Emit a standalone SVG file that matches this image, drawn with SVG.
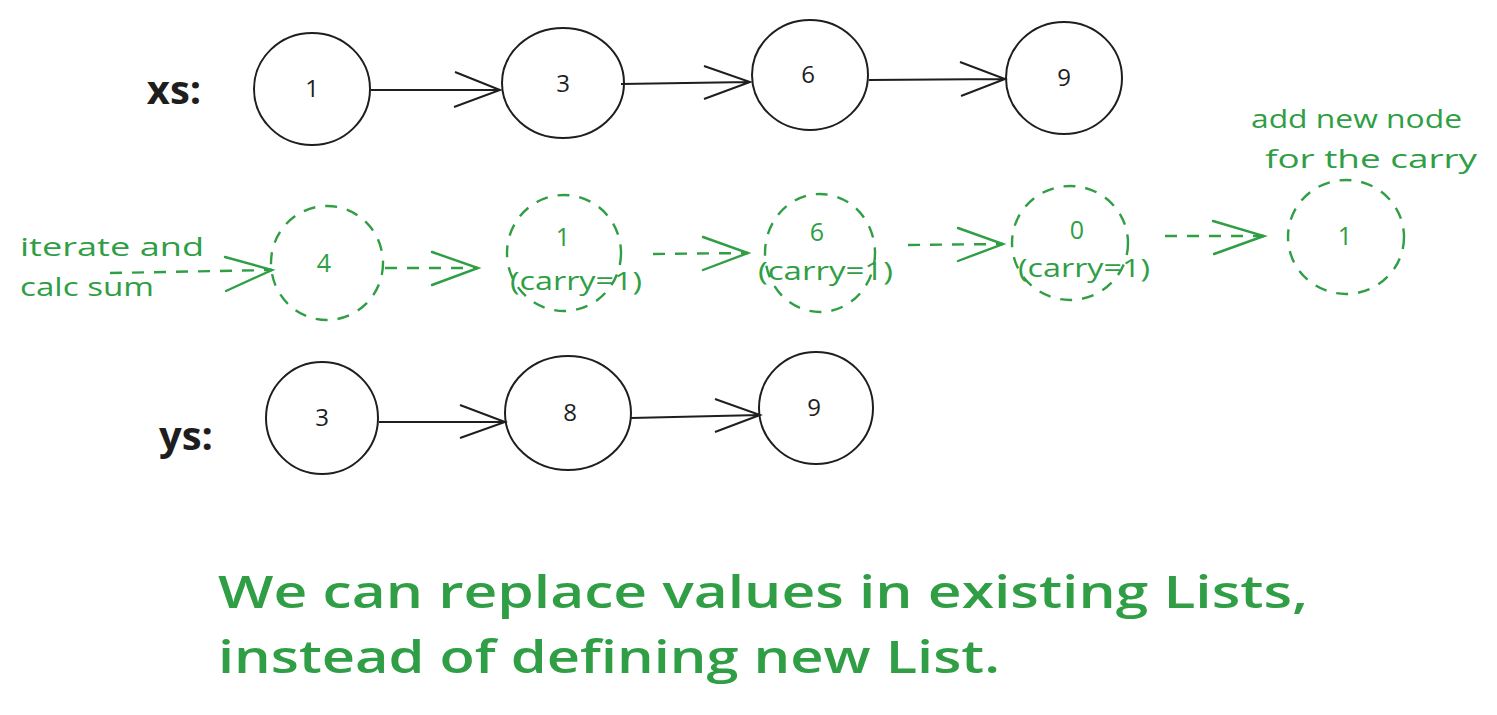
<svg xmlns="http://www.w3.org/2000/svg" width="1497" height="715" viewBox="0 0 1497 715">
<style>
.bk{fill:none;stroke:#1e1e1e;stroke-width:2}
.gr{fill:none;stroke:#2f9e44;stroke-width:2.4;stroke-dasharray:12 10}
.gl{fill:none;stroke:#2f9e44;stroke-width:2.4;stroke-linecap:round}
.t{font-family:"Open Sans","Liberation Sans",sans-serif;text-anchor:middle}
.tb{fill:#1e1e1e;font-size:24px}
.tg{fill:#2f9e44;font-size:25px}
.c{fill:#2f9e44;font-family:"Open Sans","Liberation Sans",sans-serif;font-size:26px}
.lab{fill:#1e1e1e;font-size:40px;font-weight:bold}
.note{fill:#2f9e44;font-family:"Open Sans","Liberation Sans",sans-serif;font-size:26px}
.big{fill:#2f9e44;font-family:"Open Sans","Liberation Sans",sans-serif;font-size:46px;font-weight:600}
</style>
<rect width="1497" height="715" fill="#ffffff"/>
<g id="labels">
<text class="t lab" x="174" y="104">xs:</text>
<text class="t lab" x="186" y="450">ys:</text>
</g>
<g id="xs1"><ellipse class="bk" cx="312" cy="89" rx="58" ry="56"/><text class="t tb" x="312" y="97">1</text></g>
<g id="xs3"><ellipse class="bk" cx="563" cy="83" rx="61" ry="55"/><text class="t tb" x="563" y="92">3</text></g>
<g id="xs6"><ellipse class="bk" cx="810" cy="75" rx="58" ry="55"/><text class="t tb" x="808" y="83">6</text></g>
<g id="xs9"><ellipse class="bk" cx="1064" cy="78" rx="58" ry="56"/><text class="t tb" x="1064" y="86">9</text></g>
<g id="ys3"><ellipse class="bk" cx="322" cy="418" rx="56" ry="56"/><text class="t tb" x="322" y="426">3</text></g>
<g id="ys8"><ellipse class="bk" cx="568" cy="413" rx="63" ry="57"/><text class="t tb" x="570" y="421">8</text></g>
<g id="ys9"><ellipse class="bk" cx="816" cy="408" rx="57" ry="56"/><text class="t tb" x="814" y="416">9</text></g>
<g id="g4"><ellipse class="gr" cx="327" cy="263" rx="56" ry="57"/><text class="t tg" x="324" y="272">4</text></g>
<g id="g1"><ellipse class="gr" cx="564" cy="253" rx="57" ry="58"/><text class="t tg" x="563" y="246">1</text><text class="c" x="510" y="290" textLength="132" lengthAdjust="spacingAndGlyphs">(carry=1)</text></g>
<g id="g6"><ellipse class="gr" cx="820" cy="253" rx="55" ry="59"/><text class="t tg" x="817" y="241">6</text><text class="c" x="758" y="280" textLength="135" lengthAdjust="spacingAndGlyphs">(carry=1)</text></g>
<g id="g0"><ellipse class="gr" cx="1070" cy="243" rx="58" ry="57"/><text class="t tg" x="1077" y="239">0</text><text class="c" x="1018" y="277" textLength="132" lengthAdjust="spacingAndGlyphs">(carry=1)</text></g>
<g id="gnew"><ellipse class="gr" cx="1346" cy="237" rx="58" ry="57"/><text class="t tg" x="1345" y="245">1</text></g>
<g id="notes">
<text class="note" x="20" y="256" textLength="184" lengthAdjust="spacingAndGlyphs">iterate and</text>
<text class="note" x="20" y="296" textLength="134" lengthAdjust="spacingAndGlyphs">calc sum</text>
<text class="note" x="1251" y="128" textLength="211" lengthAdjust="spacingAndGlyphs">add new node</text>
<text class="note" x="1265" y="168" textLength="212" lengthAdjust="spacingAndGlyphs">for the carry</text>
<text class="big" x="218" y="608" textLength="1090" lengthAdjust="spacingAndGlyphs">We can replace values in existing Lists,</text>
<text class="big" x="218" y="673" textLength="782" lengthAdjust="spacingAndGlyphs">instead of defining new List.</text>
</g>
<g id="connectors">
<path class="bk" d="M371 90 L500 90 M455 72 L500 90 L454 107"/>
<path class="bk" d="M621 84 L750 82 M704 66 L750 82 L704 99"/>
<path class="bk" d="M869 80 L1005 79 M960 62 L1005 79 L961 96"/>
<path class="bk" d="M379 422 L505 422 M460 405 L505 422 L460 438"/>
<path class="bk" d="M631 418 L760 415 M715 399 L760 415 L715 432"/>
<path class="gr" d="M110 273 L272 270"/>
<path class="gl" d="M225 257 L272 270 L226 291"/>
<path class="gr" d="M385 268 L478 268"/>
<path class="gl" d="M432 252 L478 268 L432 285"/>
<path class="gr" d="M653 254 L748 253"/>
<path class="gl" d="M703 237 L748 253 L703 270"/>
<path class="gr" d="M908 245 L1003 244"/>
<path class="gl" d="M958 228 L1003 244 L958 261"/>
<path class="gr" d="M1165 236 L1264 236"/>
<path class="gl" d="M1213 221 L1264 236 L1214 254"/>
</g>
</svg>
